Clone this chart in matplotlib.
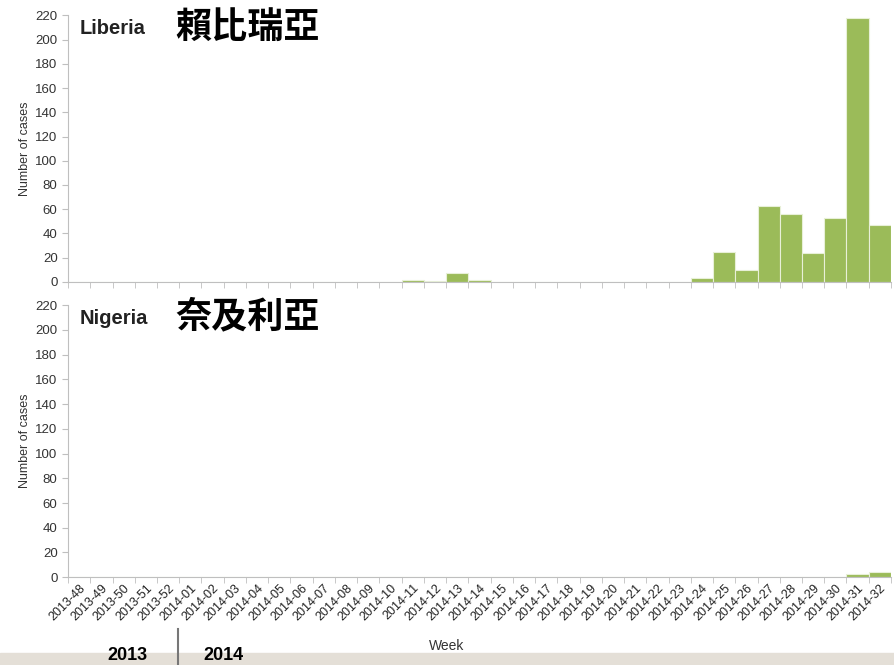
import matplotlib.pyplot as plt
from matplotlib.lines import Line2D
from matplotlib.patches import Rectangle

weeks = ["2013-48", "2013-49", "2013-50", "2013-51", "2013-52"] + \
        ["2014-%02d" % w for w in range(1, 33)]

liberia = [0, 0, 0, 0, 0,
           0, 0, 0, 0, 0, 0, 0, 0, 0, 0,
           2, 1, 7, 2, 0, 0, 0, 0, 0, 0,
           0, 0, 0, 3, 25, 10, 63, 56, 24, 53,
           218, 47]
nigeria = [0, 0, 0, 0, 0,
           0, 0, 0, 0, 0, 0, 0, 0, 0, 0,
           0, 0, 0, 0, 0, 0, 0, 0, 0, 0,
           0, 0, 0, 0, 0, 0, 0, 0, 0, 0,
           3, 4]

countries = ["Liberia", "Nigeria"]
names_zh = ["賴比瑞亞", "奈及利亞"]

green = "#9bbb59"
grey = "#bfbfbf"

plt.rcParams['font.family'] = ['Liberation Sans', 'DejaVu Sans']

fig = plt.figure(figsize=(8.95, 6.65), dpi=100)
ax1 = fig.add_axes([0.076, 0.576, 0.9195, 0.401])
ax2 = fig.add_axes([0.076, 0.132, 0.9195, 0.409])

x = list(range(len(weeks)))
for ax, vals, name, zh in zip([ax1, ax2], [liberia, nigeria], countries, names_zh):
    ax.bar(x, vals, width=1.0, color=green, edgecolor="#e8f0d8", linewidth=0.8)
    ax.set_xlim(-0.5, len(weeks) - 0.5)
    ax.set_ylim(0, 220)
    ax.set_yticks(range(0, 221, 20))
    ax.set_xticks([i - 0.5 for i in range(len(weeks) + 1)], minor=True)
    ax.set_xticks(x)
    ax.tick_params(axis="x", which="major", length=0)
    ax.tick_params(axis="x", which="minor", length=4, color=grey)
    ax.tick_params(axis="y", length=4, color=grey, labelsize=9.5, labelcolor="#333333")
    for s in ["top", "right"]:
        ax.spines[s].set_visible(False)
    for s in ["left", "bottom"]:
        ax.spines[s].set_color(grey)
    ax.set_ylabel("Number of cases", fontsize=9, color="#333333", labelpad=3)
    ax.text(0.014, 0.985, name, transform=ax.transAxes, fontsize=14.5,
            fontweight="bold", va="top", ha="left", color="#222222")
    ax.text(0.13, 1.025, zh, transform=ax.transAxes, fontsize=26,
            fontweight="bold", va="top", ha="left", color="black",
            family=["Noto Sans CJK TC", "DejaVu Sans"])

ax1.set_xticklabels([])
ax2.set_xticklabels(weeks, rotation=45, ha="right", rotation_mode="anchor",
                    fontsize=9, color="#222222")
fig.text(447 / 895, 1 - 646 / 665, "Week", fontsize=10, color="#333333",
         ha="center", va="center")

# year band at the bottom
fig.patches.append(Rectangle((0, 0), 1, 12 / 665, transform=fig.transFigure,
                             color="#e4dfd7", zorder=0))
fig.lines.append(Line2D([178 / 895, 178 / 895], [0, 36 / 665],
                        transform=fig.transFigure, color="#777777", linewidth=1.5))
fig.text(127 / 895, 1 / 665, "2013", fontsize=13, fontweight="bold", ha="center", va="bottom")
fig.text(223 / 895, 1 / 665, "2014", fontsize=13, fontweight="bold", ha="center", va="bottom")

fig.savefig("out.png", dpi=100)
